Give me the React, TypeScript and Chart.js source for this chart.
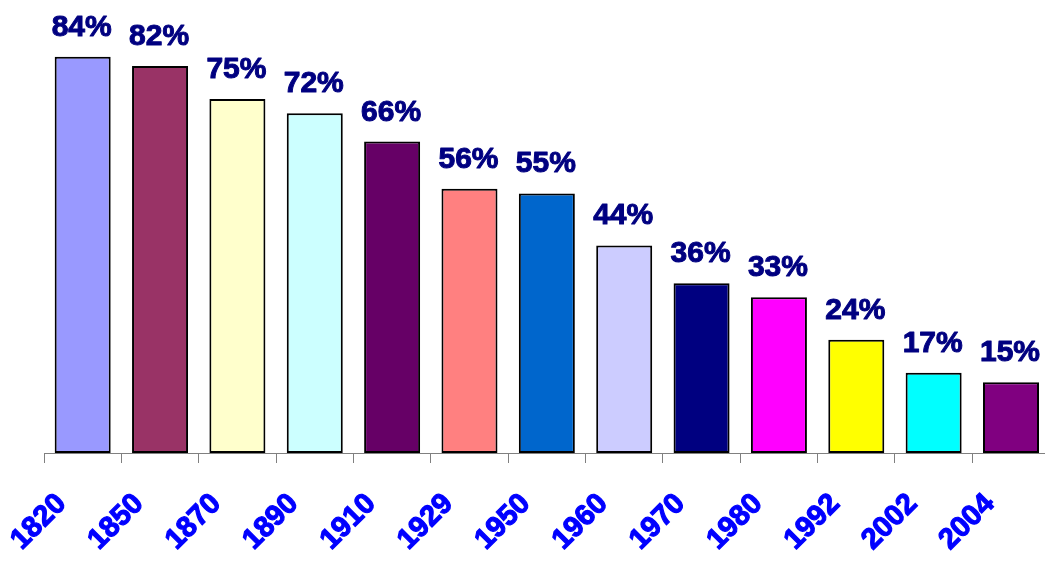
import React, { useEffect, useRef } from "react";
import { Chart, registerables } from "chart.js";

Chart.register(...registerables);

const years = ["1820", "1850", "1870", "1890", "1910", "1929", "1950", "1960", "1970", "1980", "1992", "2002", "2004"];
const shares = [84, 82, 75, 72, 66, 56, 55, 44, 36, 33, 24, 17, 15];
const barColors = [
  "#9999FF", "#993366", "#FFFFCC", "#CCFFFF", "#660066", "#FF8080", "#0066CC",
  "#CCCCFF", "#000080", "#FF00FF", "#FFFF00", "#00FFFF", "#800080",
];

const FONT = "'Liberation Sans', Arial, sans-serif";

const valueLabels = {
  id: "valueLabels",
  afterDatasetsDraw(chart: any) {
    const ctx = chart.ctx;
    const meta = chart.getDatasetMeta(0);
    ctx.save();
    ctx.fillStyle = "#000080";
    ctx.strokeStyle = "#000080";
    ctx.lineWidth = 1;
    ctx.lineJoin = "round";
    ctx.font = `bold 30px ${FONT}`;
    ctx.textAlign = "center";
    ctx.textBaseline = "alphabetic";
    meta.data.forEach((bar: any, i: number) => {
      const t = `${shares[i]}%`;
      ctx.fillText(t, bar.x - 1, bar.y - 21);
      ctx.strokeText(t, bar.x - 1, bar.y - 21);
    });
    ctx.restore();
  },
};

export default function App() {
  const ref = useRef<HTMLCanvasElement | null>(null);
  useEffect(() => {
    if (!ref.current) return;
    const chart = new Chart(ref.current, {
      type: "bar",
      data: {
        labels: years,
        datasets: [
          {
            data: shares,
            backgroundColor: barColors,
            borderColor: "#000000",
            borderWidth: 2,
            borderSkipped: false,
            barPercentage: 0.724,
            categoryPercentage: 1,
          },
        ],
      },
      options: {
        animation: false,
        responsive: true,
        maintainAspectRatio: false,
        layout: { padding: { left: 44, right: 10, top: 0, bottom: 0 } },
        plugins: { legend: { display: false }, tooltip: { enabled: false }, title: { display: false } },
        scales: {
          x: {
            offset: true,
            grid: { display: true, drawOnChartArea: false, tickLength: 10, color: "#808080", offset: true },
            border: { display: true, color: "#808080", width: 1 },
            ticks: {
              color: "#0000FF",
              textStrokeColor: "#0000FF",
              textStrokeWidth: 1.2,
              font: { family: FONT, size: 29, weight: "bold" },
              minRotation: 45,
              maxRotation: 45,
              labelOffset: -21,
              padding: 24,
              autoSkip: false,
            },
            afterFit: (scale: any) => {
              scale.height = 110;
            },
          },
          y: { display: false, min: 0, max: 96 },
        },
      },
      plugins: [valueLabels],
    });
    return () => chart.destroy();
  }, []);
  return (
    <div style={{ position: "fixed", left: 0, top: 0, width: 1045, height: 563, overflow: "hidden", background: "#fff" }}>
      <div style={{ position: "absolute", left: 0, top: 0, width: 1060, height: 563 }}>
        <canvas ref={ref} />
      </div>
    </div>
  );
}
